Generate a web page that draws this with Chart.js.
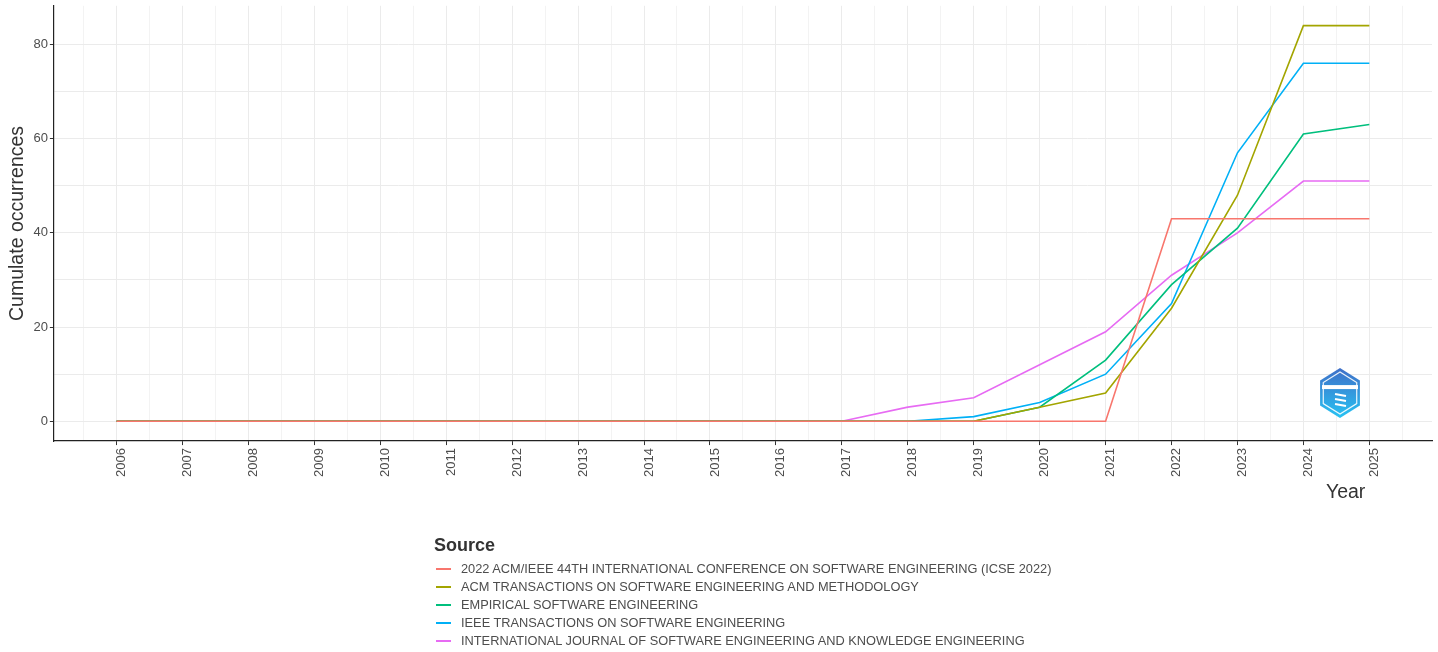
<!DOCTYPE html>
<html>
<head>
<meta charset="utf-8">
<script src="https://cdn.jsdelivr.net/npm/chart.js@4/dist/chart.umd.min.js"></script>
<style>
  html, body { margin: 0; padding: 0; background: #fff; }
  body { width: 1438px; height: 652px; position: relative; overflow: hidden; font-family: "Liberation Sans", Arial, sans-serif; }
  #wrap { position: absolute; left: 0; top: -4px; width: 1438px; height: 656px; }
  #legend { position: absolute; left: 434px; top: 533px; color: #4d4d4d; }
  #legend .ttl { font-weight: bold; font-size: 18px; color: #333; height: 27px; line-height: 24px; }
  #legend .item { height: 18px; line-height: 18px; font-size: 12.8px; display: flex; align-items: center; }
  #legend .sw { display: inline-block; width: 15px; height: 1.5px; margin: 0 10px 0 2px; }
</style>
</head>
<body>
<div id="wrap"><canvas id="chart"></canvas></div>
<div id="legend"></div>
<script>
// 年（x軸）
const years = [2006, 2007, 2008, 2009, 2010, 2011, 2012, 2013, 2014, 2015,
  2016, 2017, 2018, 2019, 2020, 2021, 2022, 2023, 2024, 2025];

// 系列名
const sources = [
  '2022 ACM/IEEE 44TH INTERNATIONAL CONFERENCE ON SOFTWARE ENGINEERING (ICSE 2022)',
  'ACM TRANSACTIONS ON SOFTWARE ENGINEERING AND METHODOLOGY',
  'EMPIRICAL SOFTWARE ENGINEERING',
  'IEEE TRANSACTIONS ON SOFTWARE ENGINEERING',
  'INTERNATIONAL JOURNAL OF SOFTWARE ENGINEERING AND KNOWLEDGE ENGINEERING'
];

// 累積件数（系列ごと）
const icse   = [0, 0, 0, 0, 0, 0, 0, 0, 0, 0, 0, 0, 0, 0, 0, 0, 43, 43, 43, 43];
const tosem  = [0, 0, 0, 0, 0, 0, 0, 0, 0, 0, 0, 0, 0, 0, 3, 6, 24, 48, 84, 84];
const emse   = [0, 0, 0, 0, 0, 0, 0, 0, 0, 0, 0, 0, 0, 0, 3, 13, 29, 41, 61, 63];
const tse    = [0, 0, 0, 0, 0, 0, 0, 0, 0, 0, 0, 0, 0, 1, 4, 10, 25, 57, 76, 76];
const ijseke = [0, 0, 0, 0, 0, 0, 0, 0, 0, 0, 0, 0, 3, 5, 12, 19, 31, 40, 51, 51];

// y軸の目盛り
const yTicks = [0, 20, 40, 60, 80];

const colors = ['#F8766D', '#A3A500', '#00BF7D', '#00B0F6', '#E76BF3'];
const seriesList = [icse, tosem, emse, tse, ijseke];

const datasets = seriesList.map((vals, i) => ({
  label: sources[i],
  data: years.map((yr, j) => ({ x: yr, y: vals[j] })),
  borderColor: colors[i],
  backgroundColor: colors[i],
  borderWidth: 1.6,
  pointRadius: 0,
  tension: 0,
  fill: false
}));

// HTML の凡例
const legendEl = document.getElementById('legend');
legendEl.innerHTML = '<div class="ttl">Source</div>' + sources.map((s, i) =>
  `<div class="item"><span class="sw" style="background:${colors[i]}"></span>${s}</div>`).join('');

// 軸タイトル "Year" とロゴ
const extras = {
  id: 'extras',
  afterDraw(chart) {
    const ctx = chart.ctx;
    const xs = chart.scales.x;
    const ca = chart.chartArea;
    ctx.save();
    ctx.font = '19.5px "Liberation Sans", Arial, sans-serif';
    ctx.fillStyle = '#333';
    ctx.textAlign = 'right';
    ctx.textBaseline = 'middle';
    ctx.fillText('Year', xs.getPixelForValue(years[years.length - 1]) - 4, ca.bottom + 52);

    // bibliometrix 風のロゴ
    const cx = ca.right - 92, cy = ca.bottom - 48, r = 25;
    const hex = (rad) => {
      ctx.beginPath();
      for (let k = 0; k < 6; k++) {
        const a = Math.PI / 2 + k * Math.PI / 3;
        const px = cx + rad * Math.cos(a) * 0.92, py = cy - rad * Math.sin(a);
        k === 0 ? ctx.moveTo(px, py) : ctx.lineTo(px, py);
      }
      ctx.closePath();
    };
    const g = ctx.createLinearGradient(0, cy - r, 0, cy + r);
    g.addColorStop(0, '#3f6fc8');
    g.addColorStop(1, '#27c3f3');
    hex(r);
    ctx.fillStyle = g;
    ctx.fill();
    hex(r - 4);
    ctx.strokeStyle = 'rgba(255,255,255,0.9)';
    ctx.lineWidth = 1.2;
    ctx.stroke();
    ctx.fillStyle = '#fff';
    ctx.fillRect(cx - 18, cy - 8, 36, 4);
    ctx.strokeStyle = '#fff';
    ctx.lineWidth = 2;
    for (let k = 0; k < 3; k++) {
      ctx.beginPath();
      ctx.moveTo(cx - 5, cy + 1 + k * 5);
      ctx.lineTo(cx + 6, cy + 3 + k * 5);
      ctx.stroke();
    }
    ctx.restore();
  }
};

const gridColor = (ctx) => Number.isInteger(ctx.tick.value) ? '#ebebeb' : '#f3f3f3';
const tickMarkColor = (ctx) => (ctx.tick && yTicks.concat(years).includes(ctx.tick.value)) ? '#333' : 'rgba(0,0,0,0)';

new Chart(document.getElementById('chart'), {
  type: 'line',
  data: { datasets: datasets },
  plugins: [extras],
  options: {
    responsive: true,
    maintainAspectRatio: false,
    animation: false,
    layout: { padding: { left: 2, top: 0, right: 6, bottom: 172 } },
    plugins: {
      legend: { display: false },
      tooltip: { enabled: false }
    },
    scales: {
      x: {
        type: 'linear',
        min: years[0] - 0.95,
        max: years[years.length - 1] + 0.95,
        afterBuildTicks: (axis) => {
          const t = [];
          years.forEach(yr => { t.push({ value: yr - 0.5 }); t.push({ value: yr }); });
          t.push({ value: years[years.length - 1] + 0.5 });
          axis.ticks = t;
        },
        ticks: {
          autoSkip: false,
          minRotation: 90,
          maxRotation: 90,
          padding: 3,
          labelOffset: 5,
          color: '#4d4d4d',
          font: { family: '"Liberation Sans", Arial, sans-serif', size: 13 },
          callback: (v) => Number.isInteger(v) ? String(v) : ''
        },
        grid: { color: gridColor, tickLength: 4, tickColor: tickMarkColor, lineWidth: 1 },
        border: { display: true, color: '#222', width: 1.2 }
      },
      y: {
        min: -4.2,
        max: 88.2,
        afterBuildTicks: (axis) => {
          const t = [];
          yTicks.forEach((v, i) => {
            t.push({ value: v });
            if (i < yTicks.length - 1) t.push({ value: (v + yTicks[i + 1]) / 2 });
          });
          axis.ticks = t;
        },
        ticks: {
          padding: 2,
          color: '#4d4d4d',
          font: { family: '"Liberation Sans", Arial, sans-serif', size: 13 },
          callback: (v) => yTicks.includes(v) ? String(v) : ''
        },
        grid: { color: gridColor, tickLength: 4, tickColor: tickMarkColor, lineWidth: 1 },
        border: { display: true, color: '#222', width: 1.2 },
        title: {
          display: true,
          text: 'Cumulate occurrences',
          color: '#333',
          padding: { top: 4, bottom: 2 },
          font: { family: '"Liberation Sans", Arial, sans-serif', size: 19.5 }
        }
      }
    }
  }
});
</script>
</body>
</html>
